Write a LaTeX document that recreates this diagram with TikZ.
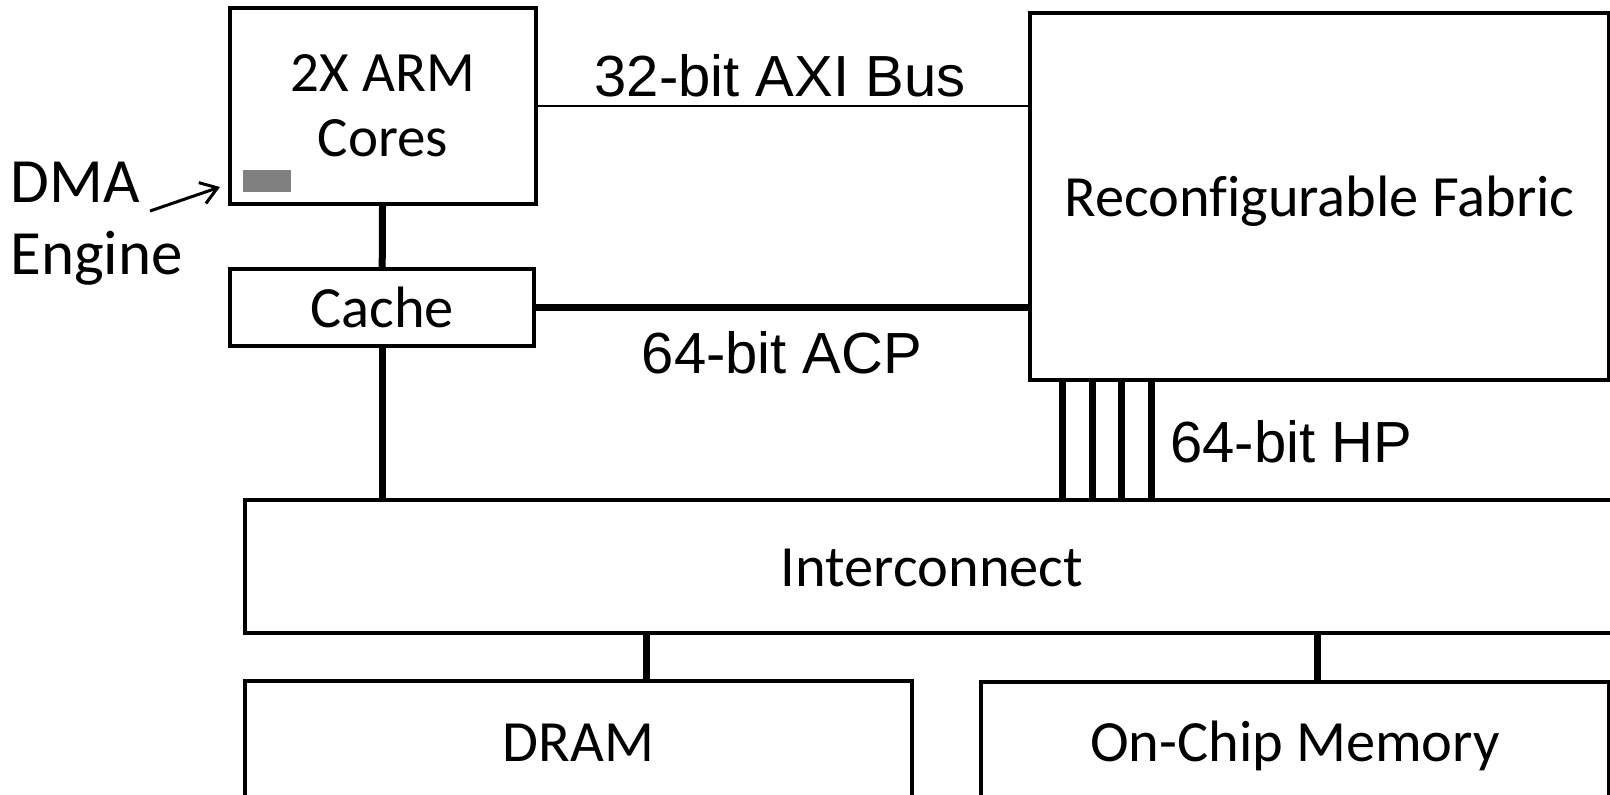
\documentclass[tikz,border=0pt]{standalone}
\usepackage{fontspec}
\setmainfont{Carlito}[Ligatures=NoCommon]
\newfontfamily\busfont{Liberation Sans}
\usetikzlibrary{arrows.meta,positioning}
\definecolor{gris}{RGB}{128,128,128}
\tikzset{
  blk/.style={draw, line width=2pt, inner sep=0pt, align=center, font=\fontsize{28.5}{32.5}\selectfont},
  blk1/.style={blk, font=\fontsize{29.2}{33}\selectfont, text height=20pt, text depth=0pt},
  bus/.style={line width=3.5pt},
  bus32/.style={line width=0.9pt},
  etq/.style={inner sep=0pt, font=\busfont\fontsize{29}{33}\selectfont},
  nota/.style={inner sep=0pt, align=left, font=\fontsize{31.5}{36}\selectfont},
  fl/.style={-{Straight Barb[length=8pt, width=11pt, line width=1.5pt]}, line width=1.5pt},
}

\begin{document}
\begin{tikzpicture}[x=0.5pt, y=-0.5pt]
  \path[use as bounding box, clip] (0,0) rectangle (1610,794);
  \node[blk, minimum width=153pt, minimum height=98pt] (arm) at (383,106) {2X ARM\\Cores};
  \node[fill=gris, inner sep=0pt, minimum width=24pt, minimum height=11pt] (dma) at (267,181) {};
  \node[blk1, minimum width=152pt, minimum height=38.5pt] (cache) at (382,307.5) {Cache};
  \node[blk1, minimum width=289.5pt, minimum height=183.5pt] (fab) at (1319.5,196.5) {Reconfigurable Fabric};
  \node[blk1, minimum width=687pt, minimum height=66.5pt] (ic) at (932,566.5) {Interconnect};
  \node[blk1, minimum width=333.5pt, minimum height=60pt] (dram) at (578.5,741) {DRAM};
  \node[blk1, minimum width=314pt, minimum height=59.5pt] (ocm) at (1295,741.5) {On-Chip Memory};
  \node[nota, anchor=base west] (dmalbl) at (10,274) {DMA\\Engine};
  \coordinate (dmatail) at (150,211);
  \coordinate (dmatip) at (220,187);
  \draw[fl] (dmatail) -- (dmatip);
  \draw[bus] (arm) -- (cache);
  \draw[bus] (cache.south) -- (cache.south |- ic.north);
  \draw[bus32] (arm.east) -- (arm.east -| fab.west);
  \draw[bus] (cache.east) -- (cache.east -| fab.west);
  \foreach \hx in {1062,1092,1121,1151}
    \draw[bus] (\hx,0 |- fab.south) -- (\hx,0 |- ic.north);
  \draw[bus] ([xshift=33.75pt]dram.north) -- ([xshift=33.75pt]dram.north |- ic.south);
  \draw[bus] ([xshift=11pt]ocm.north) -- ([xshift=11pt]ocm.north |- ic.south);
  \node[etq, anchor=base] (axi) at (780,96) {32-bit AXI Bus};
  \node[etq, anchor=base] (acp) at (782,373) {64-bit ACP};
  \node[etq, anchor=base west] (hp) at (1170,462) {64-bit HP};
\end{tikzpicture}
\end{document}
